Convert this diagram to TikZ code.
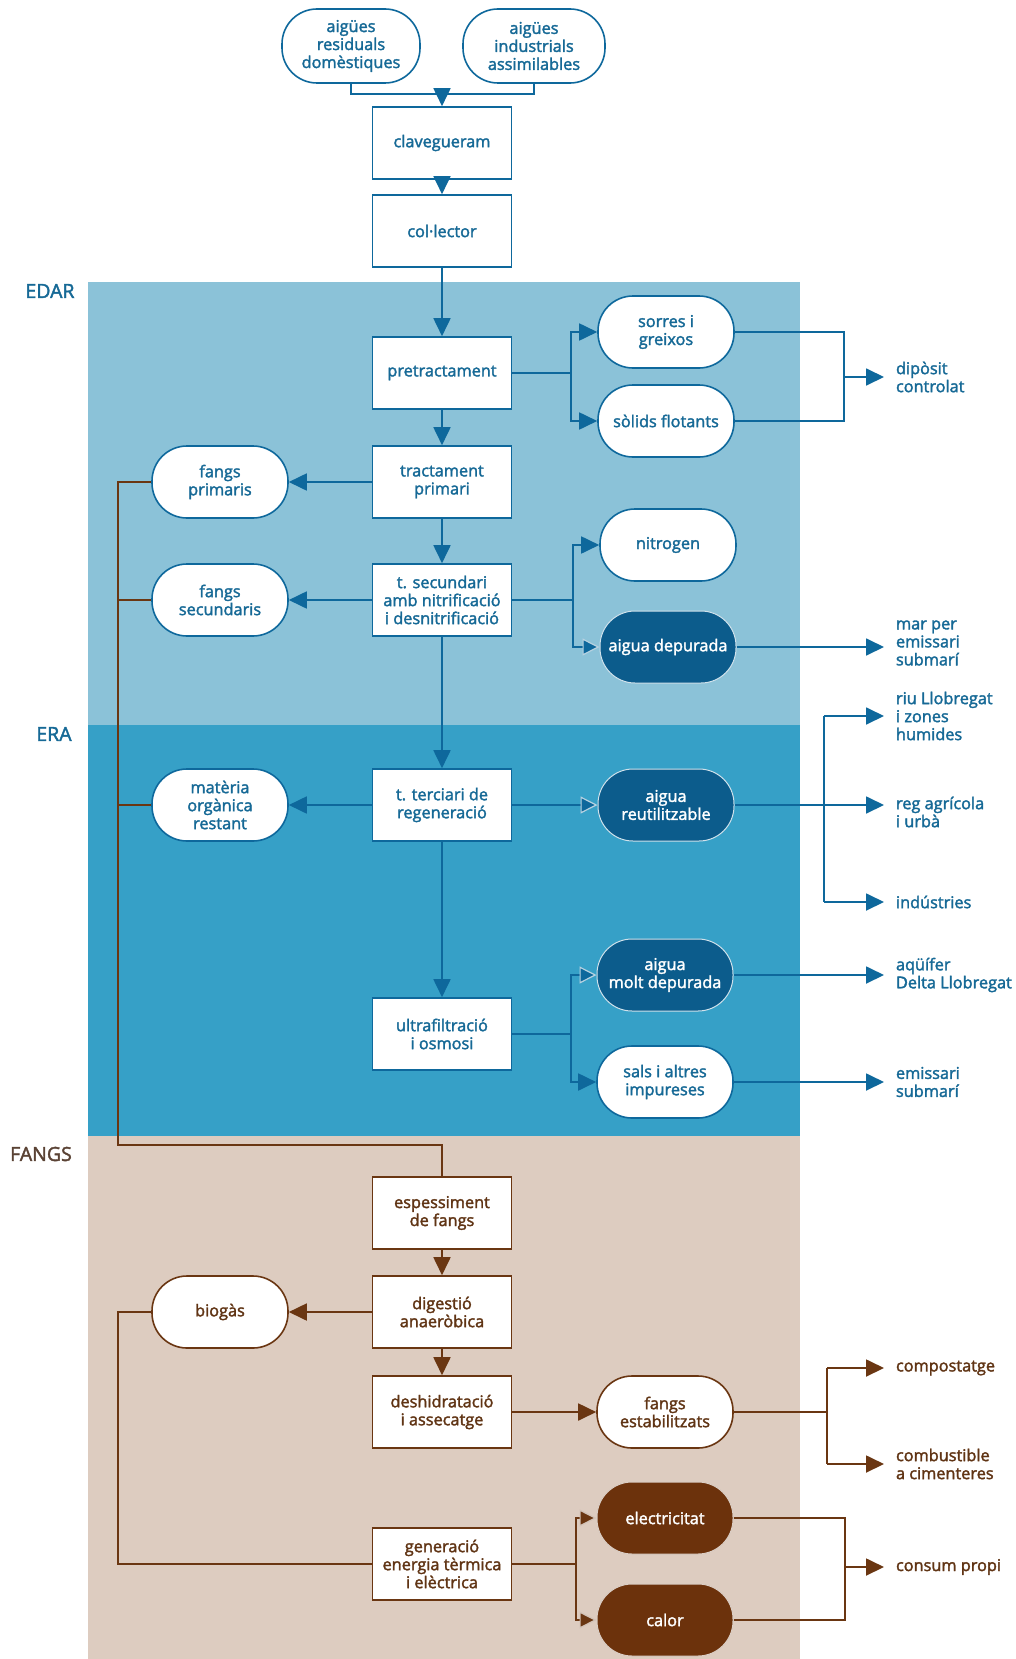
\documentclass[tikz,border=0pt]{standalone}
\usepackage{fontspec}
\setmainfont{Open Sans}[FakeBold=2]
\usetikzlibrary{arrows.meta}
\definecolor{edarbg}{RGB}{139,194,216}
\definecolor{erabg}{RGB}{54,160,199}
\definecolor{fangbg}{RGB}{221,204,192}
\definecolor{bl}{RGB}{14,104,156}
\definecolor{blfill}{RGB}{12,92,140}
\definecolor{bltext}{RGB}{22,105,150}
\definecolor{br}{RGB}{106,54,18}
\definecolor{brfill}{RGB}{108,50,12}
\definecolor{brtext}{RGB}{96,52,20}
\definecolor{fangtxt}{RGB}{90,66,52}
\begin{document}
\begin{tikzpicture}[x=1pt,y=-1pt,
 every node/.style={font=\fontsize{16.3}{18}\selectfont, align=center},
 bbox/.style={draw=bl, fill=white, line width=1.6pt, text=bltext, minimum width=139pt, minimum height=72pt, inner sep=1pt},
 boval/.style={rectangle, rounded corners=35pt, draw=bl, fill=white, line width=1.6pt, text=bltext, minimum width=136pt, minimum height=72pt, inner sep=1pt},
 bovalf/.style={boval, fill=blfill, draw=white!80!bl, line width=1pt, text=white},
 rbox/.style={bbox, draw=br, text=brtext},
 roval/.style={boval, draw=br, text=brtext},
 rovalf/.style={roval, fill=brfill, draw=white!75!br, line width=1pt, text=white},
 blbl/.style={anchor=west, align=left, inner xsep=0pt, inner ysep=0pt, outer xsep=12pt, text=bltext},
 rlbl/.style={blbl, text=brtext},
 bline/.style={draw=bl, line width=1.8pt},
 barr/.style={bline, -{Triangle[length=18pt,width=17pt]}},
 barro/.style={bline, -{Triangle[length=17pt,width=17pt,color=white!70!bl,fill=bl,line width=1.2pt]}},
 rline/.style={draw=br, line width=1.8pt},
 rarr/.style={rline, -{Triangle[length=18pt,width=17pt]}},
 rarro/.style={rline, -{Triangle[length=17pt,width=17pt,color=white!70!br,fill=br,line width=1.2pt]}},
 sect/.style={font=\fontsize{19.5}{22}\selectfont, anchor=center},
]
\useasboundingbox (0,0) rectangle (1016,1659);
\fill[white] (0,0) rectangle (1016,1659);
\fill[edarbg] (88,282) rectangle (800,725);
\fill[erabg] (88,725) rectangle (800,1136);
\fill[fangbg] (88,1136) rectangle (800,1659);

\node[sect, text=bltext] (edar) at (50,291) {EDAR};
\node[sect, text=bltext] (era) at (54,734) {ERA};
\node[sect, text=fangtxt] (fangs) at (41,1154) {FANGS};

% top
\node[boval, minimum width=138pt, minimum height=74pt] (aig1) at (351,46) {aigües\\residuals\\domèstiques};
\node[boval, minimum width=142pt, minimum height=74pt] (aig2) at (534,46) {aigües\\industrials\\assimilables};
\node[bbox] (clav) at (442,143) {clavegueram};
\node[bbox] (col) at (442,231) {col·lector};
\node[bbox] (pre) at (442,373) {pretractament};
\node[bbox] (prim) at (442,482) {tractament\\primari};
\node[bbox] (sec) at (442,600) {t. secundari\\amb nitrificació\\i desnitrificació};
\node[bbox] (ter) at (442,805) {t. terciari de\\regeneració};
\node[bbox] (ultra) at (442,1034) {ultrafiltració\\i osmosi};

\node[boval] (fp) at (220,482) {fangs\\primaris};
\node[boval] (fs) at (220,600) {fangs\\secundaris};
\node[boval] (mo) at (220,805) {matèria\\orgànica\\restant};

\node[boval] (sorres) at (666,332) {sorres i\\greixos};
\node[boval] (solids) at (666,421) {sòlids flotants};
\node[boval] (nitro) at (668,545) {nitrogen};
\node[bovalf] (adep) at (668,647) {aigua depurada};
\node[bovalf] (reut) at (666,805) {aigua\\reutilitzable};
\node[bovalf] (molt) at (665,975) {aigua\\molt depurada};
\node[boval] (sals) at (665,1082) {sals i altres\\impureses};

\node[blbl] (dipo) at (884,377) {dipòsit\\controlat};
\node[blbl] (mar) at (884,643) {mar per\\emissari\\submarí};
\node[blbl] (riu) at (884,716) {riu Llobregat\\i zones\\humides};
\node[blbl] (reg) at (884,812) {reg agrícola\\i urbà};
\node[blbl] (ind) at (884,902) {indústries};
\node[blbl] (aqu) at (884,975) {aqüífer\\Delta Llobregat};
\node[blbl] (emi) at (884,1082) {emissari\\submarí};

% fangs
\node[rbox] (esp) at (442,1213) {espessiment\\de fangs};
\node[rbox] (dig) at (442,1312) {digestió\\anaeròbica};
\node[rbox] (desh) at (442,1412) {deshidratació\\i assecatge};
\node[rbox] (gen) at (442,1564) {generació\\energia tèrmica\\i elèctrica};
\node[roval] (bio) at (220,1312) {biogàs};
\node[roval] (fest) at (665,1412) {fangs\\estabilitzats};
\node[rovalf] (elec) at (665,1518) {electricitat};
\node[rovalf] (calor) at (665,1620) {calor};

\node[rlbl] (comp) at (884,1368) {compostatge};
\node[rlbl] (comb) at (884,1464) {combustible\\a cimenteres};
\node[rlbl] (cons) at (884,1567) {consum propi};

% main flow
\coordinate (m0) at (442,94);
\draw[bline] (aig1.south) |- (m0) -| (aig2.south);
\draw[barr] (m0) -- (clav.north);
\draw[barr] (clav.south) -- (col.north);
\draw[barr] (col.south) -- (pre.north);
\draw[barr] (pre.south) -- (prim.north);
\draw[barr] (prim.south) -- (sec.north);
\draw[barr] (sec.south) -- (ter.north);
\draw[barr] (ter.south) -- (ultra.north);
\draw[barr] (prim.west) -- (fp.east);
\draw[barr] (sec.west) -- (fs.east);
\draw[barr] (ter.west) -- (mo.east);

% pretractament
\coordinate (j1) at (571,373);
\draw[bline] (pre.east) -- (j1);
\draw[barr] (j1) |- (sorres.west);
\draw[barr] (j1) |- (solids.west);
\coordinate (j2) at (844,377);
\draw[bline] (sorres.east) -| (j2) |- (solids.east);
\draw[barr] (j2) -- (dipo.west);

% secundari
\coordinate (j3) at (573,600);
\draw[bline] (sec.east) -- (j3);
\draw[barr] (j3) |- (nitro.west);
\draw[barro] (j3) |- (adep.west);
\draw[barr] (adep.east) -- (adep.east -| mar.west);

% terciari
\draw[barro] (ter.east) -- (reut.west);
\coordinate (ra) at (824,716);
\coordinate (rb) at (824,902);
\draw[bline] (ra) -- (rb);
\draw[barr] (reut.east) -- (reut.east -| reg.west);
\draw[barr] (ra) -- (riu.west);
\draw[barr] (rb) -- (ind.west);

% ultrafiltracio
\coordinate (j5) at (571,1034);
\draw[bline] (ultra.east) -- (j5);
\draw[barro] (j5) |- (molt.west);
\draw[barr] (j5) |- (sals.west);
\draw[barr] (molt.east) -- (aqu.west);
\draw[barr] (sals.east) -- (emi.west);

% brown trunk
\coordinate (t1) at (118,1145);
\draw[rline] (fp.west) -| (t1) -| (esp.north);
\draw[rline] (fs.west) -- (fs.west -| t1);
\draw[rline] (mo.west) -- (mo.west -| t1);

% fangs flow
\draw[rarr] (esp.south) -- (dig.north);
\draw[rarr] (dig.south) -- (desh.north);
\draw[rarr] (dig.west) -- (bio.east);
\coordinate (b0) at (118,1564);
\draw[rline] (bio.west) -| (b0) -- (gen.west);
\draw[rarr] (desh.east) -- (fest.west);
\coordinate (j6) at (827,1412);
\coordinate (c1) at (827,1368);
\coordinate (c2) at (827,1464);
\draw[rline] (fest.east) -- (j6);
\draw[rline] (c1) -- (c2);
\draw[rarr] (c1) -- (comp.west);
\draw[rarr] (c2) -- (comb.west);
\coordinate (j7) at (576,1564);
\draw[rline] (gen.east) -- (j7);
\draw[rarro] (j7) |- (elec.west);
\draw[rarro] (j7) |- (calor.west);
\coordinate (j8) at (845,1567);
\draw[rline] (elec.east) -| (j8) |- (calor.east);
\draw[rarr] (j8) -- (cons.west);
\end{tikzpicture}
\end{document}
